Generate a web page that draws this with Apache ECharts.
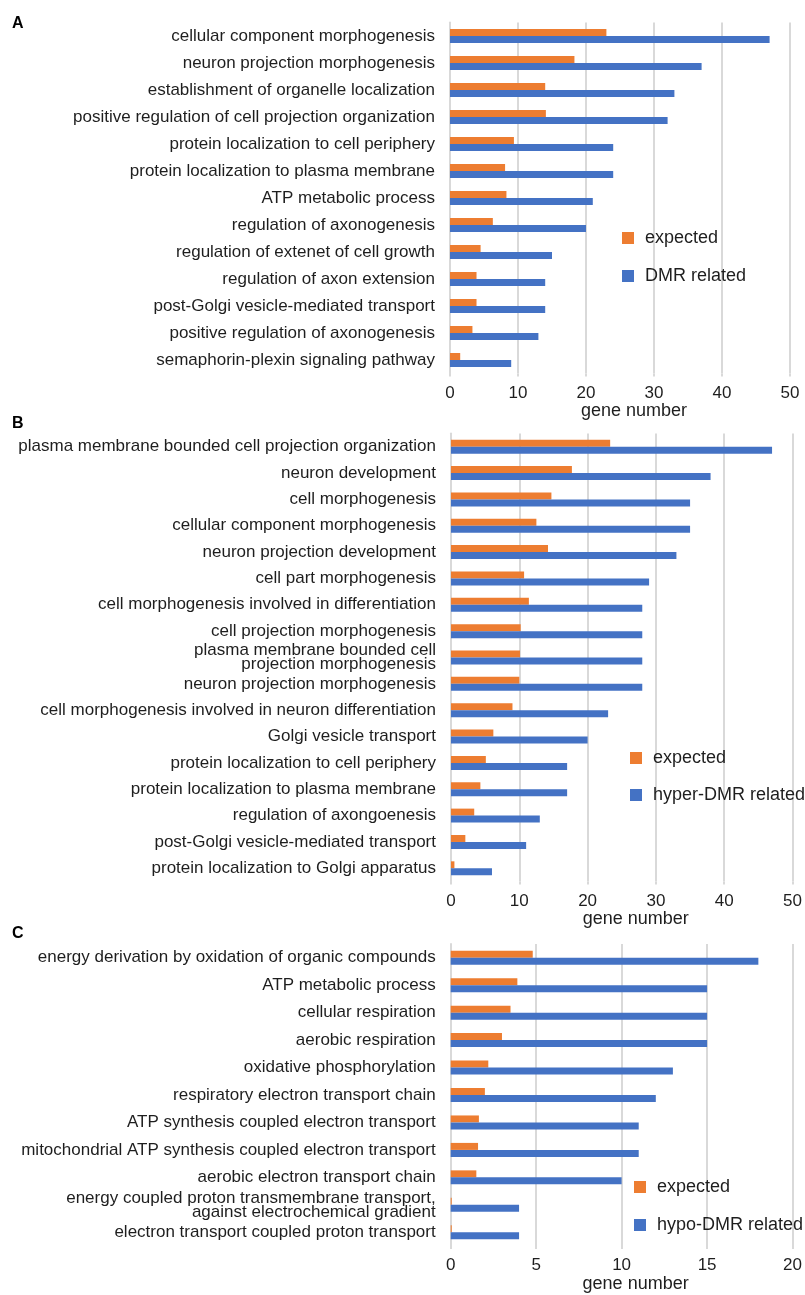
<!DOCTYPE html>
<html>
<head>
<meta charset="utf-8">
<script src="https://cdn.jsdelivr.net/npm/echarts@6/dist/echarts.min.js"></script>
<style>
  html, body { margin: 0; padding: 0; background: #ffffff; }
  #chart { width: 805px; height: 1295px; }
</style>
</head>
<body>
<div id="chart"></div>
<script>
// Panel A: all DMR-related genes
const catsA = [
  'cellular component morphogenesis',
  'neuron projection morphogenesis',
  'establishment of organelle localization',
  'positive regulation of cell projection organization',
  'protein localization to cell periphery',
  'protein localization to plasma membrane',
  'ATP metabolic process',
  'regulation of axonogenesis',
  'regulation of extenet of cell growth',
  'regulation of axon extension',
  'post-Golgi vesicle-mediated transport',
  'positive regulation of axonogenesis',
  'semaphorin-plexin signaling pathway'
];
const expectedA = [23.0, 18.3, 14.0, 14.1, 9.4, 8.1, 8.3, 6.3, 4.5, 3.9, 3.9, 3.3, 1.5];
const observedA = [47, 37, 33, 32, 24, 24, 21, 20, 15, 14, 14, 13, 9];

// Panel B: hyper-DMR-related genes
const catsB = [
  'plasma membrane bounded cell projection organization',
  'neuron development',
  'cell morphogenesis',
  'cellular component morphogenesis',
  'neuron projection development',
  'cell part morphogenesis',
  'cell morphogenesis involved in differentiation',
  'cell projection morphogenesis',
  'plasma membrane bounded cell\nprojection morphogenesis',
  'neuron projection morphogenesis',
  'cell morphogenesis involved in neuron differentiation',
  'Golgi vesicle transport',
  'protein localization to cell periphery',
  'protein localization to plasma membrane',
  'regulation of axongoenesis',
  'post-Golgi vesicle-mediated transport',
  'protein localization to Golgi apparatus'
];
const expectedB = [23.3, 17.7, 14.7, 12.5, 14.2, 10.7, 11.4, 10.2, 10.1, 10.0, 9.0, 6.2, 5.1, 4.3, 3.4, 2.1, 0.5];
const observedB = [47, 38, 35, 35, 33, 29, 28, 28, 28, 28, 23, 20, 17, 17, 13, 11, 6];

// Panel C: hypo-DMR-related genes
const catsC = [
  'energy derivation by oxidation of organic compounds',
  'ATP metabolic process',
  'cellular respiration',
  'aerobic respiration',
  'oxidative phosphorylation',
  'respiratory electron transport chain',
  'ATP synthesis coupled electron transport',
  'mitochondrial ATP synthesis coupled electron transport',
  'aerobic electron transport chain',
  'energy coupled proton transmembrane transport,\nagainst electrochemical gradient',
  'electron transport coupled proton transport'
];
const expectedC = [4.8, 3.9, 3.5, 3.0, 2.2, 2.0, 1.65, 1.6, 1.5, 0.06, 0.06];
const observedC = [18, 15, 15, 15, 13, 12, 11, 11, 10, 4, 4];

const xTicksAB = { min: 0, max: 50, interval: 10 };
const xTicksC = { min: 0, max: 20, interval: 5 };

const ORANGE = '#ED7D31';
const BLUE = '#4472C4';
const GRID_GRAY = '#d9d9d9';
const TEXT = '#1e1e1e';
const FONT = '"Liberation Sans", Arial, sans-serif';

const grids = [
  { left: 450, top: 22.5, width: 340, height: 351 },
  { left: 451, top: 433.5, width: 343, height: 448 },
  { left: 450.7, top: 944, width: 342.6, height: 302 }
];

function xAxis(gridIndex, ticks) {
  return {
    type: 'value', gridIndex,
    min: ticks.min, max: ticks.max, interval: ticks.interval,
    name: 'gene number', nameLocation: 'middle', nameGap: 28,
    nameTextStyle: { fontFamily: FONT, fontSize: 18, color: TEXT, padding: [0, 0, 0, 28] },
    axisLine: { show: false },
    axisTick: { show: true, length: 3, lineStyle: { color: GRID_GRAY, width: 2 } },
    axisLabel: { fontFamily: FONT, fontSize: 17, color: TEXT, margin: 11 },
    splitLine: { show: true, lineStyle: { color: GRID_GRAY, width: 2 } }
  };
}

function yAxis(gridIndex, cats) {
  return {
    type: 'category', gridIndex, data: cats, inverse: true,
    axisLine: { show: true, lineStyle: { color: GRID_GRAY, width: 2 } },
    axisTick: { show: false },
    axisLabel: { fontFamily: FONT, fontSize: 17, color: TEXT, margin: 15, lineHeight: 14, interval: 0 }
  };
}

function bars(name, data, idx, color) {
  return {
    name, type: 'bar', data, xAxisIndex: idx, yAxisIndex: idx,
    barWidth: 7, barGap: '0%',
    itemStyle: { color },
    animation: false
  };
}

function legend(names, left, top, gap) {
  return {
    orient: 'vertical', left, top, itemGap: gap, padding: 0,
    itemWidth: 12, itemHeight: 12, icon: 'rect',
    data: names,
    textStyle: { fontFamily: FONT, fontSize: 18, color: TEXT, padding: [0, 0, 0, 6] }
  };
}

const chart = echarts.init(document.getElementById('chart'), null, { renderer: 'canvas' });
chart.setOption({
  backgroundColor: '#ffffff',
  animation: false,
  title: [
    { text: 'A', left: 12, top: 16 },
    { text: 'B', left: 12, top: 416 },
    { text: 'C', left: 12, top: 926 }
  ].map(t => Object.assign(t, { padding: 0, textStyle: { fontFamily: FONT, fontSize: 16, fontWeight: 'bold', color: '#000' } })),
  grid: grids,
  xAxis: [xAxis(0, xTicksAB), xAxis(1, xTicksAB), xAxis(2, xTicksC)],
  yAxis: [yAxis(0, catsA), yAxis(1, catsB), yAxis(2, catsC)],
  legend: [
    legend(['expected', 'DMR related'], 622, 229, 20),
    legend(['expected', 'hyper-DMR related'], 630, 749, 19),
    legend(['expected', 'hypo-DMR related'], 634, 1178, 20)
  ],
  series: [
    bars('expected', expectedA, 0, ORANGE),
    bars('DMR related', observedA, 0, BLUE),
    bars('expected', expectedB, 1, ORANGE),
    bars('hyper-DMR related', observedB, 1, BLUE),
    bars('expected', expectedC, 2, ORANGE),
    bars('hypo-DMR related', observedC, 2, BLUE)
  ]
});
</script>
</body>
</html>
